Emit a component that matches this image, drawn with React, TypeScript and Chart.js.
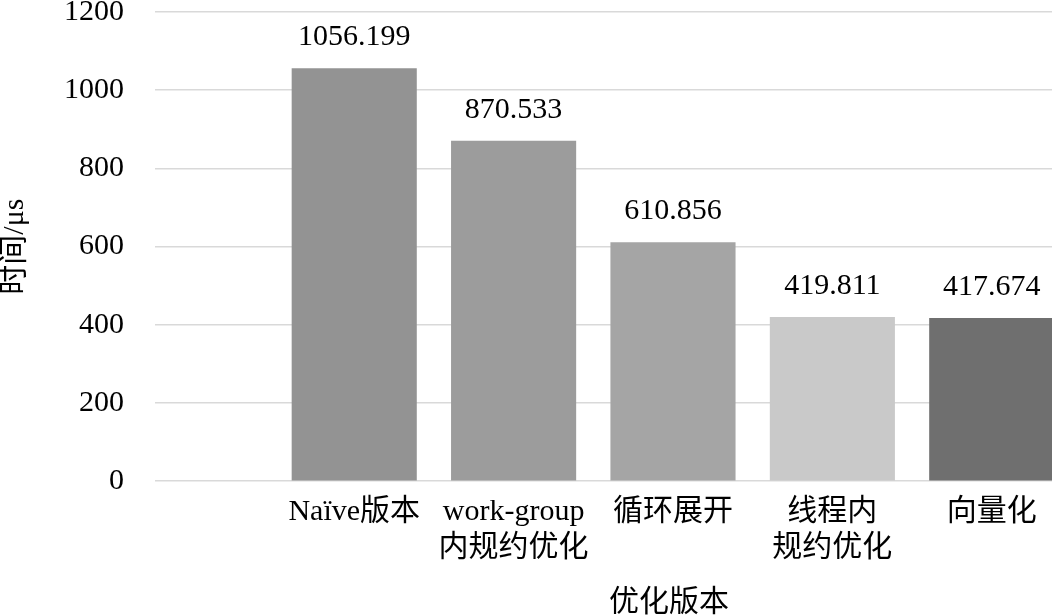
import React, { useEffect, useRef } from 'react';
import { Chart, registerables } from 'chart.js';

Chart.register(...registerables);

// ---- data ----
const categoryLabels: string[][] = [
  ['Naïve版本'],
  ['work-group', '内规约优化'],
  ['循环展开'],
  ['线程内', '规约优化'],
  ['向量化'],
];
const categoryPositions: number[] = [1, 2, 3, 4, 5];
const timeValues: number[] = [1056.199, 870.533, 610.856, 419.811, 417.674];
const barColors: string[] = ['#939393', '#9c9c9c', '#a5a5a5', '#c9c9c9', '#6f6f6f'];
const yTickValues: number[] = [0, 200, 400, 600, 800, 1000, 1200];
const xAxisTitle = '优化版本';
const yAxisTitle = '时间/μs';

const FONT_FAMILY = '"Liberation Serif", "Times New Roman", "Noto Sans CJK SC", serif';

const valueLabelPlugin = {
  id: 'valueLabels',
  afterDatasetsDraw(chart: any) {
    const ctx = chart.ctx;
    const meta = chart.getDatasetMeta(0);
    ctx.save();
    ctx.font = `30px ${FONT_FAMILY}`;
    ctx.fillStyle = '#000000';
    ctx.textAlign = 'center';
    ctx.textBaseline = 'alphabetic';
    meta.data.forEach((bar: any, i: number) => {
      const v = timeValues[i];
      ctx.fillText(v.toFixed(3), bar.x, bar.y - 23);
    });
    ctx.restore();
  },
};

export default function App() {
  const canvasRef = useRef<HTMLCanvasElement | null>(null);

  useEffect(() => {
    if (!canvasRef.current) return;
    const chart = new Chart(canvasRef.current, {
      type: 'bar',
      data: {
        datasets: [
          {
            data: categoryPositions.map((x, i) => ({ x, y: timeValues[i] })),
            backgroundColor: barColors,
            borderWidth: 0,
            barPercentage: 0.785,
            categoryPercentage: 1,
          },
        ],
      },
      options: {
        responsive: false,
        maintainAspectRatio: false,
        animation: false,
        layout: { padding: 0 },
        plugins: {
          legend: { display: false },
          tooltip: { enabled: false },
        },
        scales: {
          x: {
            type: 'linear',
            min: -0.25,
            max: 6.2,
            offset: false,
            bounds: 'data',
            afterBuildTicks: (scale: any) => {
              scale.ticks = categoryPositions.map((v) => ({ value: v }));
            },
            grid: { display: false, drawTicks: false, offset: false },
            border: { display: false },
            ticks: {
              autoSkip: false,
              maxRotation: 0,
              minRotation: 0,
              padding: 12,
              color: '#000000',
              font: { family: FONT_FAMILY, size: 30, lineHeight: 1.23 },
              callback: (value: any) => {
                const idx = categoryPositions.indexOf(Number(value));
                return idx >= 0 ? categoryLabels[idx] : '';
              },
            },
            title: {
              display: true,
              text: xAxisTitle,
              color: '#000000',
              font: { family: FONT_FAMILY, size: 30, lineHeight: 1.2 },
              padding: { top: 6, bottom: 0 },
            },
          },
          y: {
            type: 'linear',
            min: 0,
            max: 1200,
            afterBuildTicks: (scale: any) => {
              scale.ticks = yTickValues.map((v) => ({ value: v }));
            },
            grid: { color: '#d9d9d9', lineWidth: 1.5, drawTicks: false },
            border: { display: false },
            ticks: {
              padding: 31,
              color: '#000000',
              font: { family: FONT_FAMILY, size: 30, lineHeight: 1.2 },
              callback: (value: any) => String(value),
            },
            title: {
              display: true,
              text: yAxisTitle,
              color: '#000000',
              font: { family: FONT_FAMILY, size: 30, lineHeight: 1 },
              padding: { top: 0, bottom: 3 },
            },
          },
        },
      },
      plugins: [valueLabelPlugin],
    });
    return () => chart.destroy();
  }, []);

  return (
    <div
      style={{
        position: 'fixed',
        left: 0,
        top: 0,
        width: 1052,
        height: 615,
        overflow: 'hidden',
        background: '#ffffff',
      }}
    >
      <div style={{ position: 'absolute', left: 0, top: -37 }}>
        <canvas ref={canvasRef} width={1183} height={658} style={{ display: 'block' }} />
      </div>
    </div>
  );
}
